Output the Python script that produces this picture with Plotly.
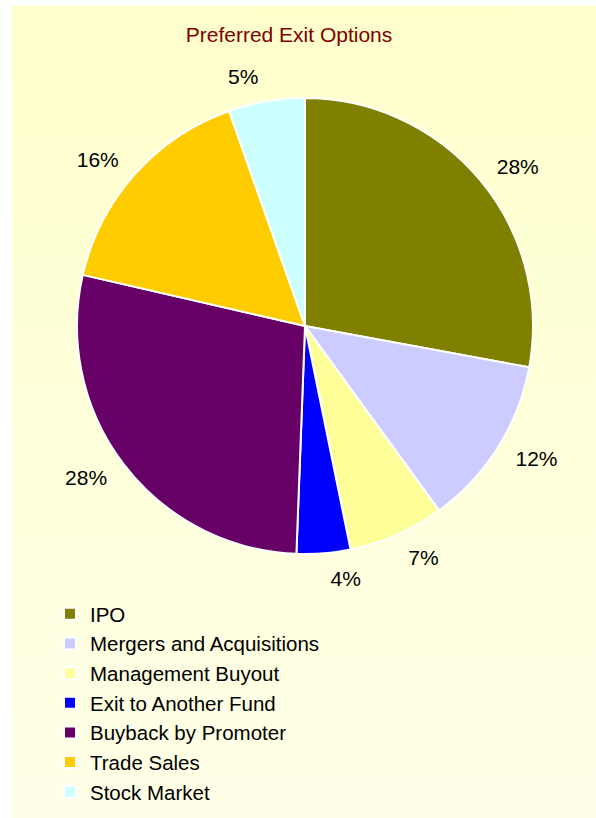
import plotly.graph_objects as go

labels = ["IPO", "Mergers and Acquisitions", "Management Buyout", "Exit to Another Fund",
          "Buyback by Promoter", "Trade Sales", "Stock Market"]
values = [27.9, 12.1, 6.8, 3.8, 28.0, 16.0, 5.4]
colors = ["#808000", "#CCCCFF", "#FFFF99", "#0000FF", "#660066", "#FFCC00", "#CCFFFF"]

W, H = 596, 818
FONT = "Liberation Sans, Arial, sans-serif"
CX, CY, R = 305, 326, 228
RL = R + 14  # radius of the (invisible) label ring

fig = go.Figure()

# gradient background panel
fig.add_trace(go.Scatter(
    x=[0, 1, 1, 0, 0], y=[0, 0, 1, 1, 0], mode="lines", fill="toself",
    line=dict(width=0), hoverinfo="skip", showlegend=False,
    fillgradient=dict(type="vertical", colorscale=[[0, "#FFFFE8"], [1, "#FFFFCC"]]),
))

# invisible rings carrying the percentage labels slightly further out
# (the small slice's label sits on its own ring so it is not pushed aside)
small = [i for i, v in enumerate(values) if v == min(values)]
for group in (False, True):
    tp = ["outside" if ((i in small) == group) else "none" for i in range(len(values))]
    fig.add_trace(go.Pie(
        labels=labels, values=values, sort=False, direction="clockwise", rotation=0,
        marker=dict(colors=["rgba(0,0,0,0)"] * len(labels), line=dict(width=0)),
        textposition=tp, texttemplate="%{percent:.0%}",
        textfont=dict(family=FONT, size=21, color="black"),
        domain=dict(x=[(CX - RL) / W, (CX + RL) / W], y=[(H - CY - RL) / H, (H - CY + RL) / H]),
        showlegend=False, hoverinfo="skip",
    ))

fig.add_trace(go.Pie(
    labels=labels, values=values, sort=False, direction="clockwise", rotation=0,
    marker=dict(colors=colors, line=dict(color="white", width=2)),
    textinfo="none",
    domain=dict(x=[(CX - R) / W, (CX + R) / W], y=[(H - CY - R) / H, (H - CY + R) / H]),
    showlegend=True,
))

fig.update_layout(
    width=W, height=H,
    margin=dict(l=0, r=0, t=0, b=0),
    paper_bgcolor="white", plot_bgcolor="rgba(0,0,0,0)",
    xaxis=dict(domain=[12 / W, 1], range=[0, 1], visible=False, fixedrange=True),
    yaxis=dict(domain=[0, 1 - 6 / H], range=[0, 1], visible=False, fixedrange=True),
    title=dict(text="Preferred Exit Options", x=289 / W, xanchor="center",
               y=1 - 35 / H, yanchor="middle",
               font=dict(family=FONT, size=21, color="#800000")),
    legend=dict(x=50 / W, xanchor="left", y=1 - 594 / H, yanchor="top",
                font=dict(family=FONT, size=20.5, color="black"),
                bgcolor="rgba(0,0,0,0)", traceorder="normal"),
    showlegend=True,
)

fig.write_html("out.html", config={"displayModeBar": False},
               post_script="document.body.style.margin='0';")
